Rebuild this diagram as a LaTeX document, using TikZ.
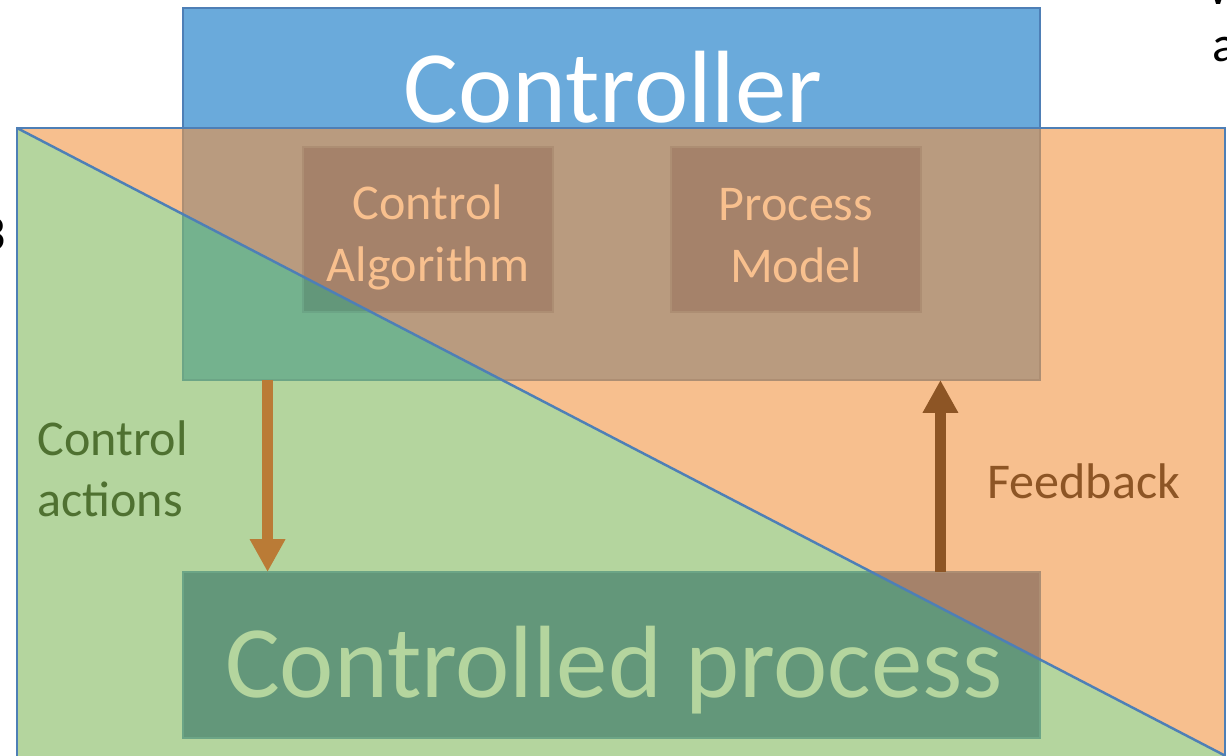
\documentclass[tikz,border=0pt]{standalone}
\usepackage{fontspec}
\setmainfont{Carlito}
\usepackage{tikz}
\usetikzlibrary{positioning,calc}
\usetikzlibrary{arrows.meta}
\definecolor{ctrlblue}{HTML}{6AAADB}
\definecolor{rectline}{HTML}{4E7FB6}
\definecolor{orangebg}{HTML}{F7BF8E}
\definecolor{greenbg}{HTML}{B4D59E}
\definecolor{ctrlonor}{HTML}{B99B7F}
\definecolor{ctrlongr}{HTML}{74B28E}
\definecolor{boxonor}{HTML}{A5826A}
\definecolor{boxongr}{HTML}{63977A}
\definecolor{lineonor}{HTML}{AD8E73}
\definecolor{lineongr}{HTML}{6CA586}
\definecolor{boxtext}{HTML}{F8C08E}
\definecolor{acttext}{HTML}{4F7131}
\definecolor{actcol}{HTML}{BA7B36}
\definecolor{fbcol}{HTML}{8D5525}
\tikzset{
	area/.style={minimum width=17.14cm,inner sep=0pt,outer sep=0pt},
	inbox/.style={minimum width=5cm,minimum height=3.3cm,inner sep=0pt,outer sep=0pt},
	bigtext/.style={font=\fontsize{58.5}{70}\selectfont,inner sep=0pt},
	midtext/.style={font=\fontsize{28.5}{35}\selectfont,align=center,inner sep=0pt},
	flow/.style={line width=0.23cm,-{Triangle[length=0.66cm,width=0.67cm]}},
	border/.style={draw=rectline,line width=1.4pt}
}

\begin{document}
\begin{tikzpicture}[x=0.02cm,y=-0.02cm]
	
	\useasboundingbox (0,0) rectangle (1227,755);
	\clip (0,0) rectangle (1227,755);
	
	%Coins du grand rectangle
	\coordinate (TL) at (17,128);
	\coordinate (TR) at (1225,128);
	\coordinate (D) at (1225,755.6);
	\coordinate (BR) at (1225,790);
	\coordinate (BL) at (17,790);
	
	%Boites
	\node[area,minimum height=7.44cm] (ctrl) at (611.5,194) {};
	\node[inbox] (alg) at (428,229.5) {};
	\node[inbox] (model) at (796,229.5) {};
	\node[area,minimum height=3.32cm] (proc) at (611.5,655) {};
	
	%Fonds
	\fill[greenbg] (TL) -- (D) -- (BR) -- (BL) -- cycle;
	\fill[orangebg] (TL) -- (TR) -- (D) -- cycle;
	\fill[ctrlblue] (ctrl.north west) rectangle (ctrl.south east);
	
	%Partie orange
	\begin{scope}
		\clip (TL) -- (TR) -- (D) -- cycle;
		\filldraw[fill=ctrlonor,draw=lineonor,line width=1pt] (ctrl.north west) rectangle (ctrl.south east);
		\foreach \b in {alg,model,proc}
			\filldraw[fill=boxonor,draw=lineonor,line width=1pt] (\b.north west) rectangle (\b.south east);
	\end{scope}
	
	%Partie verte
	\begin{scope}
		\clip (TL) -- (D) -- (BR) -- (BL) -- cycle;
		\filldraw[fill=ctrlongr,draw=lineongr,line width=1pt] (ctrl.north west) rectangle (ctrl.south east);
		\foreach \b in {alg,model,proc}
			\filldraw[fill=boxongr,draw=lineongr,line width=1pt] (\b.north west) rectangle (\b.south east);
	\end{scope}
	
	%Contours
	\draw[border] (ctrl.west |- TL) |- (ctrl.north) -| (ctrl.east |- TL);
	\draw[border] (BL) -- (TL) -- (TR) -- (BR);
	\draw[border] (TL) -- (D);
	
	%Textes
	\node[bigtext,text=white,anchor=base] (ctrltxt) at (613,122) {Controller};
	\node[bigtext,text=greenbg,anchor=base] (proctxt) at (614,697) {Controlled process};
	\node[midtext,text=boxtext] (algtxt) at ($(alg)+(0,8)$) {Control\\Algorithm};
	\node[midtext,text=boxtext] (modeltxt) at ($(model)+(0,6)$) {Process\\Model};
	\node[midtext,text=acttext,align=left,anchor=north west] (acttxt) at (37,420) {Control\\actions};
	\node[midtext,text=fbcol,anchor=base west] (fbtxt) at (987,498) {Feedback};
	
	%Fragments en bordure
	\node[midtext,anchor=base west] (fragW) at (1206,4) {W};
	\node[midtext,anchor=base west] (fragA) at (1212,61) {a};
	\node[midtext,anchor=base east] (frag3) at (6,250) {3};
	
	%Fleches
	\draw[flow,actcol] ([xshift=1.69cm]ctrl.south west) -- ([xshift=1.69cm]proc.north west);
	\draw[flow,fbcol] ([xshift=-1.99cm]proc.north east) -- ([xshift=-1.99cm]ctrl.south east);
	
\end{tikzpicture}
\end{document}
